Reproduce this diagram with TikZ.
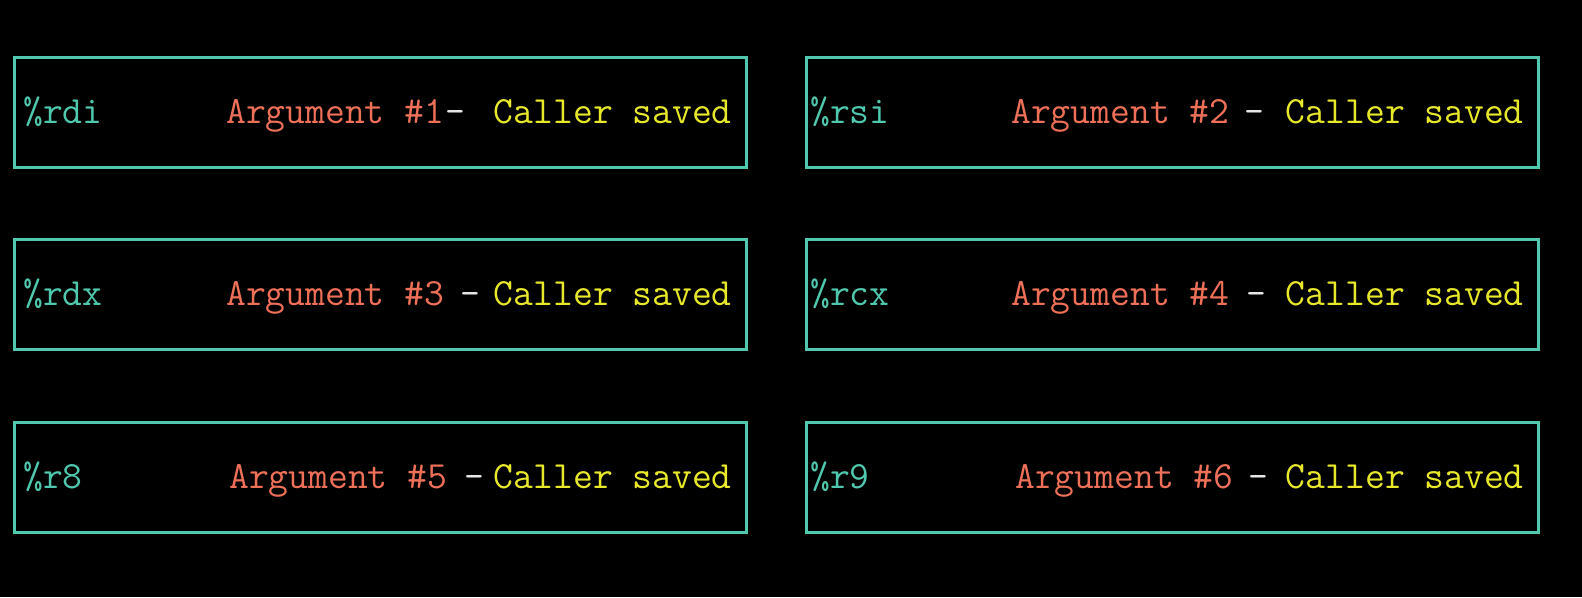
\documentclass[tikz,border=0pt]{standalone}
\usepackage{tikz}
\usetikzlibrary{positioning}
\definecolor{regteal}{HTML}{4FC8AE}
\definecolor{argred}{HTML}{EE7058}
\definecolor{saveyellow}{HTML}{E8E82A}
\definecolor{dashgray}{HTML}{E6E6E6}

\begin{document}
\begin{tikzpicture}[
    x=1pt, y=-1pt,
    every node/.style={font=\ttfamily\fontsize{38.5}{42}\selectfont, inner sep=0pt},
    regbox/.style={rectangle, draw=regteal, line width=3pt, minimum width=732pt, minimum height=110pt},
    regname/.style={anchor=base west, color=regteal},
    argtext/.style={anchor=base west, color=argred},
    dashtext/.style={anchor=base, color=dashgray},
    savetext/.style={anchor=base east, color=saveyellow},
]
% Canvas: 1 unit = 1 px of the 1582x597 frame
\fill[black] (0,0) rectangle (1582,597);
\useasboundingbox (0,0) rectangle (1582,597);
% Row 1
\node[regbox] (rdi) at (380,112) {};
\node[regname] (rdiname) at (23,123) {\%rdi};
\node[argtext] (rdiarg) at (226,123) {Argument \#1};
\node[dashtext] (rdidash) at (455,123) {-};
\node[savetext] (rdisave) at (732,123) {Caller saved};
\node[regbox] (rsi) at (1172,112) {};
\node[regname] (rsiname) at (810,123) {\%rsi};
\node[argtext] (rsiarg) at (1011,123) {Argument \#2};
\node[dashtext] (rsidash) at (1254,123) {-};
\node[savetext] (rsisave) at (1524,123) {Caller saved};
% Row 2
\node[regbox] (rdx) at (380,294) {};
\node[regname] (rdxname) at (23,305) {\%rdx};
\node[argtext] (rdxarg) at (226,305) {Argument \#3};
\node[dashtext] (rdxdash) at (470,305) {-};
\node[savetext] (rdxsave) at (732,305) {Caller saved};
\node[regbox] (rcx) at (1172,294) {};
\node[regname] (rcxname) at (810,305) {\%rcx};
\node[argtext] (rcxarg) at (1011,305) {Argument \#4};
\node[dashtext] (rcxdash) at (1256,305) {-};
\node[savetext] (rcxsave) at (1524,305) {Caller saved};
% Row 3
\node[regbox] (reight) at (380,477.5) {};
\node[regname] (reightname) at (23,488) {\%r8};
\node[argtext] (reightarg) at (229,488) {Argument \#5};
\node[dashtext] (reightdash) at (474,488) {-};
\node[savetext] (reightsave) at (732,488) {Caller saved};
\node[regbox] (rnine) at (1172,477.5) {};
\node[regname] (rninename) at (810,488) {\%r9};
\node[argtext] (rninearg) at (1015,488) {Argument \#6};
\node[dashtext] (rninedash) at (1258,488) {-};
\node[savetext] (rninesave) at (1524,488) {Caller saved};
\end{tikzpicture}
\end{document}
